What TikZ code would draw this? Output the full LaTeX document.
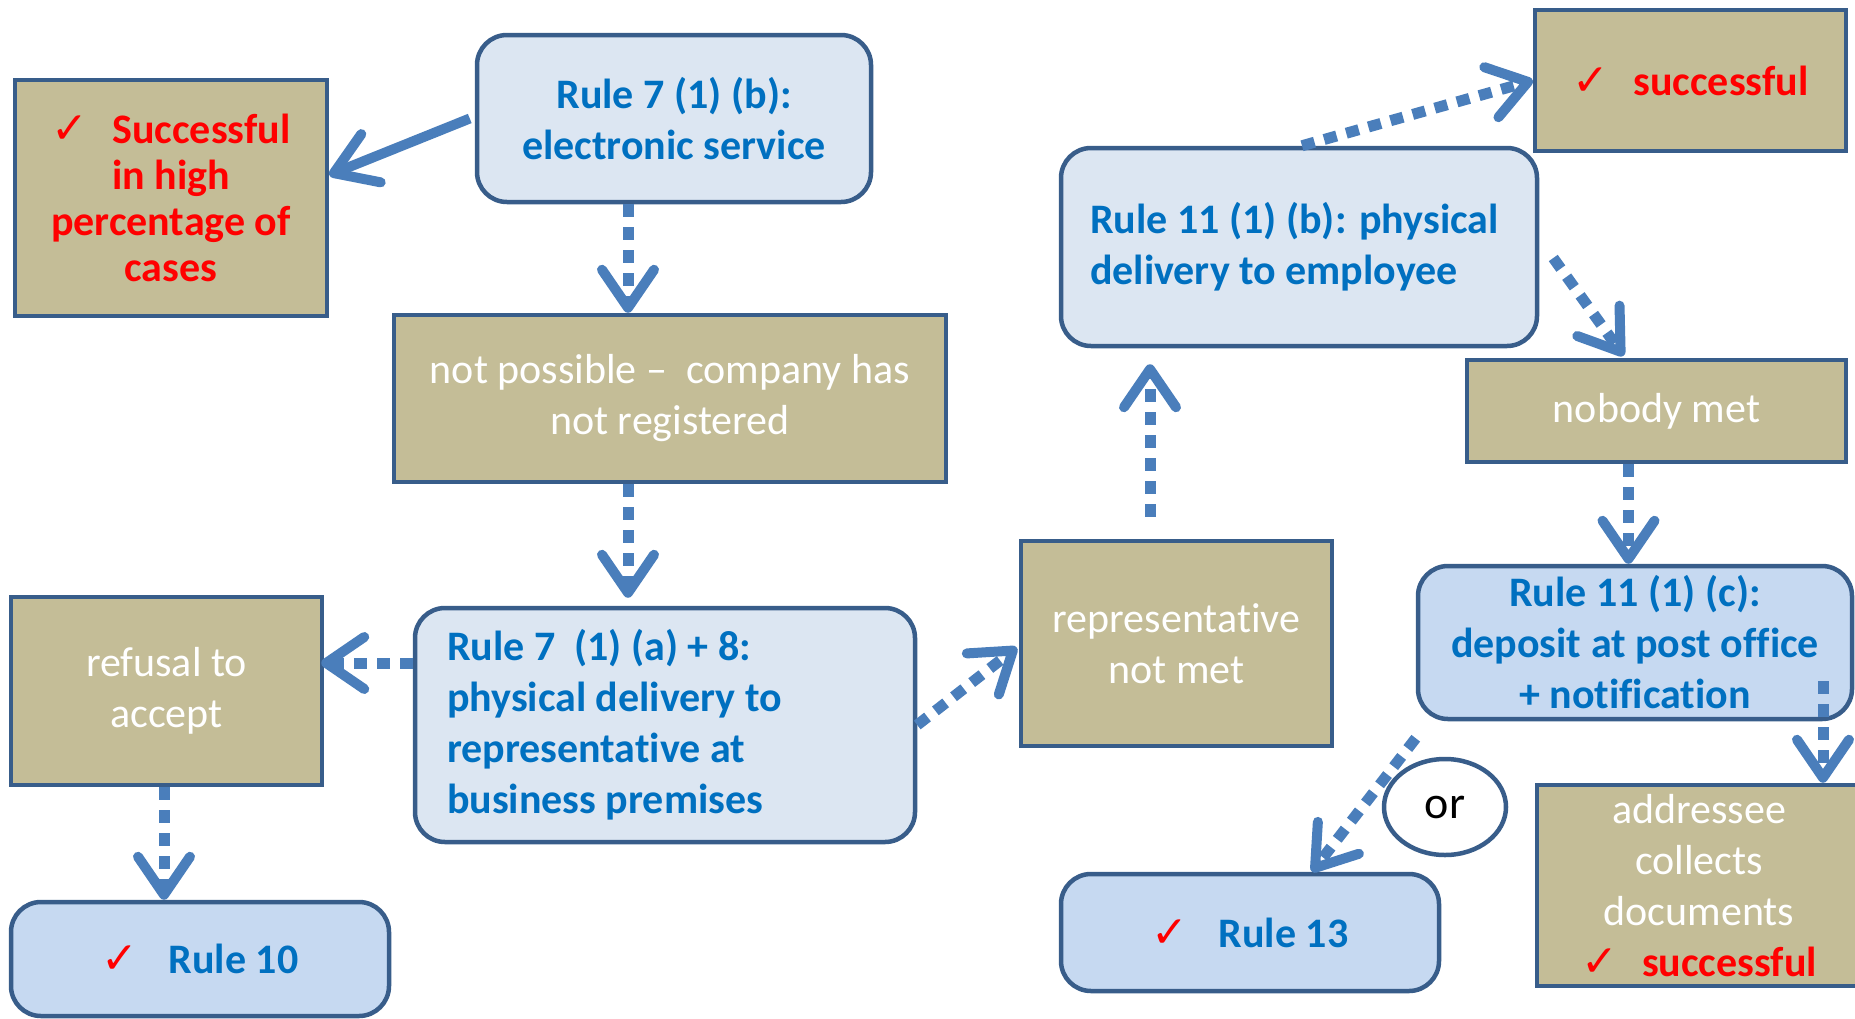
\documentclass[tikz,border=0pt]{standalone}
\usepackage{fontspec}
\setmainfont{Carlito}[Ligatures={NoCommon}]
\newfontfamily\chkfont{DejaVu Sans}
\usetikzlibrary{arrows.meta,shapes.geometric}
\definecolor{tanf}{HTML}{C4BD97}
\definecolor{bord}{HTML}{385D8A}
\definecolor{lbone}{HTML}{DCE6F2}
\definecolor{lbtwo}{HTML}{C6D9F1}
\definecolor{arrc}{HTML}{4A7EBB}
\definecolor{tblue}{HTML}{0070C0}
\newcommand{\ck}{{\color{red}\chkfont\fontsize{44}{46}\selectfont\mdseries ✓}}
\begin{document}
\begin{tikzpicture}[x=1pt,y=-1pt,
  every node/.style={font=\fontsize{42}{51}\selectfont},
  tanbox/.style={draw=bord, fill=tanf, line width=4.5pt, inner sep=0pt, align=center, text=white},
  rbox/.style={draw=bord, fill=lbone, line width=4.5pt, rounded corners=30pt, inner sep=0pt, align=center, text=tblue, font=\fontsize{42}{51}\selectfont\bfseries},
  rboxb/.style={rbox, fill=lbtwo},
  redtxt/.style={text=red, font=\fontsize{42}{46}\selectfont\bfseries},
  flow/.style={draw=arrc, line width=11pt, dash pattern=on 13pt off 10pt,
    -{Straight Barb[length=38pt, width=52pt, line width=10pt, round]}},
  solidflow/.style={draw=arrc, line width=10pt,
    -{Straight Barb[length=40pt, width=52pt, line width=10pt, round]}}
]
\useasboundingbox (0,0) rectangle (1855,1018);

% nodes
\node[tanbox, redtxt, minimum width=312pt, minimum height=236pt] (succ1) at (171,198)
  {\ck\hspace{24pt}Successful\\in high\\percentage of\\cases};
\node[rbox, minimum width=394pt, minimum height=167pt] (r7b) at (674,118.5)
  {Rule 7 (1) (b):\\electronic service};
\node[tanbox, minimum width=552pt, minimum height=167pt] (notposs) at (670,398.5)
  {not possible --\ \ company has\\not registered};
\node[rbox, minimum width=500pt, minimum height=234pt, text width=436pt, align=flush left, inner xsep=32pt] (r7a) at (665,725)
  {Rule 7\ \ (1) (a) + 8:\\physical delivery to\\representative at\\business premises};
\node[tanbox, minimum width=311pt, minimum height=188pt] (refusal) at (166.5,691)
  {refusal to\\accept};
\node[rboxb, minimum width=378pt, minimum height=114pt] (rule10) at (200,959)
  {\ck\hspace{30pt}Rule 10};
\node[tanbox, minimum width=311pt, minimum height=205pt] (repnot) at (1176.5,643.5)
  {representative\\not met};
\node[rbox, minimum width=476pt, minimum height=198pt, text width=418pt, align=flush left, inner xsep=29pt] (r11b) at (1299,247)
  {Rule 11 (1) (b): physical\\delivery to employee};
\node[tanbox, redtxt, minimum width=311pt, minimum height=141pt] (succ2) at (1690.5,80.5)
  {\ck\hspace{24pt}successful};
\node[tanbox, minimum width=379pt, minimum height=102pt] (nobody) at (1656.5,411)
  {nobody met};
\node[rboxb, minimum width=434pt, minimum height=153pt] (r11c) at (1635,642.5)
  {Rule 11 (1) (c):\\deposit at post office\\+ notification};
\node[rboxb, minimum width=378pt, minimum height=117pt] (rule13) at (1250,932.5)
  {\ck\hspace{30pt}Rule 13};
\node[tanbox, minimum width=324pt, minimum height=201pt] (addr) at (1699,885.5)
  {addressee\\collects\\documents\\{\ck\hspace{24pt}\color{red}\bfseries successful}};
\node[ellipse, draw=bord, fill=white, line width=4.5pt, minimum width=122pt, minimum height=96pt, inner sep=0pt, text=black, font=\fontsize{46}{51}\selectfont] (orc) at (1445,807) {or};

% connectors
\draw[solidflow] ([xshift=-5pt]r7b.west) -- ([yshift=23pt]succ1.east);
\draw[flow] ([xshift=-46pt]r7b.south) -- ([xshift=-42pt]notposs.north);
\draw[flow] ([xshift=-42pt]notposs.south) -- ([shift={(-37pt,8pt)}]r7a.north);
\draw[flow] ([yshift=62pt]r7a.west) -- ([shift={(-3pt,28pt)}]refusal.east);
\draw[flow] ([xshift=-2.5pt]refusal.south) -- ([xshift=-36pt]rule10.north);
\draw[flow] (r7a.east) -- ([shift={(-2pt,-4pt)}]repnot.west);
\draw[flow] ([shift={(-26.5pt,22pt)}]repnot.north) -- ([shift={(-149pt,-16pt)}]r11b.south);
\draw[flow] ([xshift=3pt]r11b.north) -- (succ2.west);
\draw[flow] ([shift={(14pt,-11pt)}]r11b.east) -- ([shift={(-33pt,2pt)}]nobody.north);
\draw[flow] ([xshift=-28pt]nobody.south) -- ([xshift=-6.5pt]r11c.north);
\draw[flow] ([shift={(188pt,40pt)}]r11c.south) -- ([xshift=124pt]addr.north);
\draw[flow] ([yshift=-17pt]r11c.south west) -- ([xshift=62pt]rule13.north);
\end{tikzpicture}
\end{document}
